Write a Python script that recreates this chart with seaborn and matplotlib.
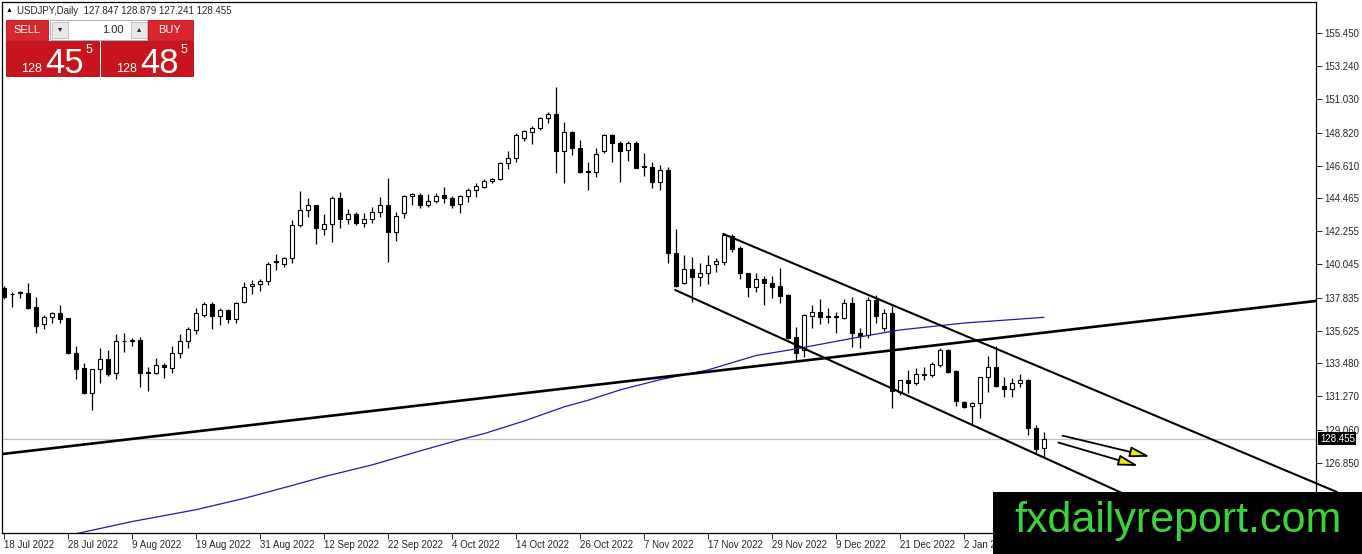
import numpy as np
import pandas as pd
import matplotlib
matplotlib.use("Agg")
import matplotlib.pyplot as plt
import matplotlib.transforms as mtransforms
from matplotlib.patches import Rectangle
import seaborn as sns

# daily USDJPY bars, 18 Jul 2022 .. 16 Jan 2023
dates = pd.bdate_range("2022-07-18", "2023-01-16")

opens = [138.46, 138.10, 138.12, 138.13, 137.20, 136.07, 136.53, 136.84, 136.47, 134.14,
         133.14, 131.47, 133.07, 133.74, 132.80, 134.96, 135.00, 135.02, 132.88, 132.85,
         133.38, 133.18, 134.14, 134.96, 135.69, 136.69, 137.42, 136.64, 137.02, 136.40,
         137.53, 138.60, 138.75, 138.95, 140.20, 140.05, 140.46, 142.68, 143.67, 144.01,
         142.39, 142.74, 144.45, 143.05, 143.41, 142.79, 143.05, 143.56, 144.01, 142.23,
         143.50, 144.60, 144.67, 144.01, 144.30, 144.65, 144.45, 144.05, 144.60, 145.00,
         145.18, 145.60, 145.71, 146.78, 147.11, 148.44, 148.88, 149.11, 149.77, 150.04,
         147.60, 148.84, 147.77, 146.25, 146.18, 147.62, 148.66, 148.15, 147.66, 148.15,
         146.55, 146.51, 145.56, 146.33, 140.83, 138.79, 139.72, 139.19, 139.46, 140.06,
         140.24, 141.94, 141.12, 139.46, 138.53, 139.06, 138.79, 138.62, 138.02, 135.20,
         134.36, 136.62, 136.91, 136.62, 136.53, 136.47, 137.51, 135.47, 135.36, 137.69,
         135.80, 136.80, 131.59, 132.36, 132.19, 132.70, 132.70, 133.36, 134.36, 132.98,
         130.92, 130.60, 130.85, 132.54, 133.25, 131.96, 131.74, 132.14, 132.36, 129.15,
         127.847]
highs = [138.60, 138.24, 138.30, 138.79, 137.86, 136.69, 136.91, 137.35, 136.50, 134.62,
         133.47, 133.07, 134.47, 134.36, 135.42, 135.51, 135.18, 135.20, 133.20, 133.80,
         133.47, 134.62, 135.42, 135.91, 137.13, 137.53, 137.57, 137.17, 137.09, 137.53,
         138.90, 139.00, 139.10, 140.20, 140.75, 140.55, 143.01, 144.96, 144.45, 144.01,
         143.41, 144.60, 144.89, 143.72, 143.56, 143.50, 143.85, 144.56, 145.78, 143.56,
         144.67, 144.78, 144.78, 144.74, 144.78, 145.23, 144.60, 144.67, 145.11, 145.45,
         145.71, 145.78, 146.89, 147.62, 148.77, 149.00, 149.26, 149.84, 150.17, 151.88,
         149.55, 148.95, 148.33, 146.89, 147.78, 148.73, 148.73, 148.29, 148.29, 148.29,
         147.49, 146.89, 146.67, 146.56, 142.39, 140.68, 140.52, 140.17, 140.68, 140.46,
         142.12, 142.08, 141.28, 139.50, 139.46, 139.28, 139.28, 139.79, 138.05, 135.91,
         136.75, 137.35, 137.73, 137.13, 136.91, 137.73, 137.91, 135.84, 137.91, 138.02,
         137.06, 137.29, 132.36, 133.03, 133.14, 133.20, 133.58, 134.47, 134.40, 133.00,
         130.95, 130.90, 132.59, 133.96, 134.63, 132.54, 132.47, 132.76, 132.41, 129.37,
         128.879]
lows = [137.75, 137.24, 137.80, 137.10, 135.47, 135.75, 136.18, 136.18, 134.07, 132.41,
        131.45, 130.37, 132.18, 132.63, 132.41, 134.25, 134.62, 131.92, 131.60, 132.76,
        132.47, 132.85, 133.80, 134.51, 135.40, 136.58, 135.73, 136.02, 136.18, 136.18,
        137.46, 138.10, 138.30, 138.70, 139.65, 139.90, 140.13, 142.57, 143.23, 141.41,
        142.01, 141.57, 142.45, 142.74, 142.68, 142.52, 142.83, 143.23, 140.24, 141.63,
        143.12, 144.01, 143.78, 143.90, 144.12, 144.12, 143.78, 143.45, 144.23, 144.52,
        145.11, 145.45, 145.67, 146.38, 146.89, 148.29, 148.04, 148.99, 149.44, 146.11,
        145.45, 147.33, 146.11, 145.00, 145.89, 147.45, 146.89, 145.56, 146.96, 146.45,
        145.94, 145.12, 145.00, 140.12, 138.55, 138.75, 137.57, 138.62, 138.75, 139.57,
        140.01, 140.90, 139.06, 137.90, 138.24, 137.35, 137.80, 137.50, 135.10, 133.70,
        133.92, 135.84, 136.09, 136.13, 135.51, 136.40, 134.58, 134.47, 135.13, 136.18,
        135.64, 130.48, 131.37, 131.48, 132.03, 132.36, 132.54, 133.20, 132.81, 130.63,
        130.50, 129.44, 129.81, 131.59, 131.90, 131.21, 131.25, 131.87, 128.70, 127.53,
        127.241]
closes = [137.91, 138.05, 138.20, 137.17, 135.98, 136.53, 136.84, 136.44, 134.14, 133.10,
          131.47, 133.07, 133.74, 132.74, 134.96, 134.95, 134.98, 132.80, 132.85, 133.36,
          133.20, 134.14, 134.96, 135.76, 136.80, 137.42, 136.64, 137.02, 136.40, 137.46,
          138.57, 138.75, 138.95, 140.10, 140.25, 140.50, 142.68, 143.67, 144.01, 142.45,
          142.74, 144.45, 143.05, 143.41, 142.79, 143.05, 143.56, 144.01, 142.23, 143.27,
          144.60, 144.74, 144.01, 144.30, 144.63, 144.45, 144.01, 144.60, 145.00, 145.27,
          145.60, 145.71, 146.78, 147.11, 148.66, 148.93, 149.11, 149.77, 150.04, 147.60,
          148.84, 147.77, 146.22, 146.22, 147.38, 148.66, 148.11, 147.62, 148.15, 146.45,
          146.56, 145.56, 146.34, 140.83, 138.62, 139.72, 139.19, 139.46, 140.01, 140.28,
          142.01, 141.06, 139.46, 138.53, 139.06, 138.79, 138.57, 137.95, 135.13, 134.14,
          136.69, 136.91, 136.53, 136.53, 136.62, 137.51, 135.47, 135.29, 137.69, 136.62,
          136.80, 131.65, 132.36, 132.19, 132.74, 132.77, 133.43, 134.36, 132.92, 130.99,
          130.55, 130.85, 132.54, 133.25, 131.96, 131.74, 132.14, 132.36, 129.15, 127.75,
          128.455]

# blue moving average, sampled at bar positions
ma_bars = [7, 16, 24, 30, 36, 40, 46, 52, 57, 60, 65, 70, 73, 77, 82, 88, 94, 99, 107, 112, 120, 130]
ma_vals = [121.90, 122.94, 123.73, 124.48, 125.34, 125.93, 126.71, 127.64, 128.39, 128.79, 129.63,
           130.57, 131.01, 131.70, 132.38, 133.03, 133.99, 134.43, 135.23, 135.69, 136.15, 136.53]

# drawn trend lines (bar index, price)
long_line_x = [-0.125, 164.0]
long_line_y = [127.44, 137.62]
chan_up_x = [89.9, 166.6]
chan_up_y = [142.08, 124.91]
chan_lo_x = [83.9, 149.5]
chan_lo_y = [138.35, 122.48]
arrows = [((132.3, 128.66), (143.25, 127.26)), ((131.8, 128.20), (141.8, 126.64))]

price_ticks = [155.450, 153.240, 151.030, 148.820, 146.610, 144.465, 142.255, 140.045,
               137.835, 135.625, 133.480, 131.270, 129.060, 126.850]
last_price = 128.455

sns.set_style("white")
plt.rcParams['font.family'] = ['Liberation Sans', 'DejaVu Sans']

W, H = 1362, 554
fig = plt.figure(figsize=(W / 100, H / 100), dpi=100)
ax = fig.add_axes([2 / W, 21 / H, 1314 / W, 531 / H])

x = np.arange(len(dates))
o = np.array(opens); c = np.array(closes)
bull = c >= o
bottoms = np.minimum(o, c)
heights = np.maximum(np.abs(c - o), 0.02)

ax.axhline(last_price, color="#c0c0c0", lw=0.9, zorder=1)
ax.vlines(x, lows, highs, color="black", lw=0.9, zorder=2)
ax.bar(x, heights, width=0.6, bottom=bottoms, color=np.where(bull, "white", "black"),
       edgecolor="black", linewidth=0.8, zorder=3)

sns.lineplot(x=ma_bars, y=ma_vals, ax=ax, color="#1c1caa", lw=0.9, zorder=4)
ax.plot(long_line_x, long_line_y, color="black", lw=1.9, zorder=5)
ax.plot(chan_up_x, chan_up_y, color="black", lw=1.5, zorder=5, clip_on=False)
ax.plot(chan_lo_x, chan_lo_y, color="black", lw=1.5, zorder=5)
for start, tip in arrows:
    ax.annotate("", xy=tip, xytext=start,
                arrowprops=dict(arrowstyle="-|>,head_length=1.2,head_width=0.32",
                                fc="#e8e812", ec="black", lw=1.3, shrinkA=0, shrinkB=0))

ax.set_xlim(-0.25, 164)
ax.set_ylim(122.18, 157.51)

tick_idx = list(range(0, 121, 8))
ax.set_xticks(tick_idx)
ax.set_xticklabels([f"{dates[i].day} {dates[i].strftime('%b %Y')}" for i in tick_idx],
                   ha="left", fontsize=7)
ax.set_yticks(price_ticks)
ax.set_yticklabels([f"{p:.3f}" for p in price_ticks], fontsize=7)
ax.yaxis.tick_right()
ax.tick_params(axis="x", direction="out", length=4, width=0.7, pad=1, bottom=True)
ax.tick_params(axis="y", direction="out", length=4, width=0.7, pad=2, right=True, left=False)
for s in ax.spines.values():
    s.set_color("black")
    s.set_linewidth(0.9)

trans = mtransforms.blended_transform_factory(ax.transAxes, ax.transData)
ax.text(1.003, last_price, f"{last_price:.3f}", transform=trans, ha="left", va="center",
        fontsize=7, color="white", zorder=10,
        bbox=dict(boxstyle="square,pad=0.15", fc="black", ec="none"))


def rect(x0, y0, x1, y1, **kw):
    fig.add_artist(Rectangle((x0 / W, 1 - y1 / H), (x1 - x0) / W, (y1 - y0) / H,
                             transform=fig.transFigure, **kw))


def ftext(px, py, s, **kw):
    fig.text(px / W, 1 - py / H, s, **kw)


# header
ftext(6, 11, "\u25b2", fontsize=5, va="center", color="black")
ftext(17, 11, "USDJPY,Daily  127.847 128.879 127.241 128.455", fontsize=7, va="center")

# one-click trading panel
rect(6, 20, 48, 40, fc="#d8262c", ec="#b81018", lw=0.6, zorder=10)
rect(148, 20, 193, 40, fc="#d8262c", ec="#b81018", lw=0.6, zorder=10)
rect(50, 20, 147, 40, fc="white", ec="#a0a0a0", lw=0.6, zorder=10)
rect(52, 22, 68, 38, fc="#e8e8e8", ec="#b0b0b0", lw=0.5, zorder=11)
rect(131, 22, 147, 38, fc="#e8e8e8", ec="#b0b0b0", lw=0.5, zorder=11)
rect(6, 41, 99, 76, fc="#c8141c", ec="#a00c12", lw=0.6, zorder=10)
rect(101, 41, 193, 76, fc="#c8141c", ec="#a00c12", lw=0.6, zorder=10)
ftext(27, 30, "SELL", fontsize=8, color="white", ha="center", va="center", zorder=12)
ftext(170, 30, "BUY", fontsize=8, color="white", ha="center", va="center", zorder=12)
ftext(60, 30, "\u25be", fontsize=6, ha="center", va="center", zorder=12)
ftext(139, 30, "\u25b4", fontsize=6, ha="center", va="center", zorder=12)
ftext(124, 30, "1.00", fontsize=8, ha="right", va="center", zorder=12)
for left, big in [(21, "45"), (116, "48")]:
    ftext(left, 72, "128", fontsize=9, color="white", va="baseline", zorder=12)
    ftext(left + 24, 73, big, fontsize=25, color="white", va="baseline", zorder=12)
    ftext(left + 65, 53, "5", fontsize=9, color="white", va="baseline", zorder=12)

# watermark
rect(993, 492, W + 2, H + 2, fc="black", ec="none", zorder=20)
ftext(1178, 521, "fxdailyreport.com", fontsize=31, color="#3cd23c", ha="center",
      va="center", zorder=21)

fig.savefig("out.png", dpi=100)
